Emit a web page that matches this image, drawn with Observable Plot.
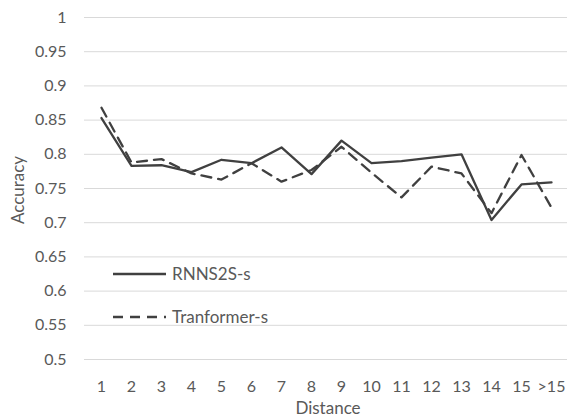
<!DOCTYPE html>
<html>
<head>
<meta charset="utf-8">
<script src="https://cdn.jsdelivr.net/npm/d3@7"></script>
<script src="https://cdn.jsdelivr.net/npm/@observablehq/plot@0.6"></script>
<style>
  html, body { margin: 0; padding: 0; background: #fff; }
  #chart svg { font-family: Lato, "Open Sans", sans-serif; }
</style>
</head>
<body>
<div id="chart"></div>
<script>
const categories = ["1","2","3","4","5","6","7","8","9","10","11","12","13","14","15",">15"];
const rnnValues = [0.853, 0.783, 0.784, 0.774, 0.792, 0.787, 0.810, 0.771, 0.820, 0.787, 0.790, 0.795, 0.800, 0.704, 0.756, 0.759];
const transformerValues = [0.868, 0.788, 0.793, 0.772, 0.763, 0.787, 0.760, 0.777, 0.811, 0.773, 0.737, 0.782, 0.772, 0.714, 0.799, 0.722];
const yTicks = [0.5, 0.55, 0.6, 0.65, 0.7, 0.75, 0.8, 0.85, 0.9, 0.95, 1];
const seriesNames = ["RNNS2S-s", "Tranformer-s"];

const rows = (vals, name) => categories.map((c, i) => ({cat: c, value: vals[i], series: name}));
const rnnRows = rows(rnnValues, seriesNames[0]);
const trRows = rows(transformerValues, seriesNames[1]);

const textColor = "#595959";
const lineColor = "#404040";
const fs = "16px";
const fsWords = "17px";
const dash = "10,7";

const chart = Plot.plot({
  width: 577,
  height: 420,
  marginTop: 17,
  marginBottom: 61,
  marginLeft: 84,
  marginRight: 10,
  style: {fontSize: fs, color: textColor, fontFamily: "Lato, 'Open Sans', sans-serif"},
  x: {type: "point", domain: categories, padding: 0.5, label: null},
  y: {domain: [0.5, 1], label: null},
  marks: [
    Plot.ruleY(yTicks, {stroke: "#d9d9d9", strokeWidth: 1}),
    Plot.axisY({ticks: yTicks, tickSize: 0, tickPadding: 18, tickFormat: d => String(+d.toFixed(2)), fill: textColor, fontSize: 16}),
    Plot.axisX({tickSize: 0, tickPadding: 21, fill: textColor, fontSize: 16}),
    Plot.line(rnnRows, {x: "cat", y: "value", stroke: lineColor, strokeWidth: 2.3}),
    Plot.line(trRows, {x: "cat", y: "value", stroke: lineColor, strokeWidth: 2.3, strokeDasharray: dash}),
  ]
});
document.getElementById("chart").appendChild(chart);

const svg = d3.select(chart);
// axis titles
svg.append("text").attr("x", 328).attr("y", 414).attr("text-anchor", "middle")
  .attr("fill", textColor).style("font-size", fsWords).text("Distance");
svg.append("text").attr("transform", "translate(24,190) rotate(-90)").attr("text-anchor", "middle")
  .attr("fill", textColor).style("font-size", fsWords).text("Accuracy");

// legend
const legend = svg.append("g");
[[274, null], [317, dash]].forEach(([ly, d], i) => {
  const ln = legend.append("line").attr("x1", 113).attr("x2", 166).attr("y1", ly).attr("y2", ly)
    .attr("stroke", lineColor).attr("stroke-width", 2.3);
  if (d) ln.attr("stroke-dasharray", d);
  legend.append("text").attr("x", 172).attr("y", ly).attr("dy", "0.35em").attr("text-anchor", "start")
    .attr("fill", textColor).style("font-size", fsWords).text(seriesNames[i]);
});
</script>
</body>
</html>
